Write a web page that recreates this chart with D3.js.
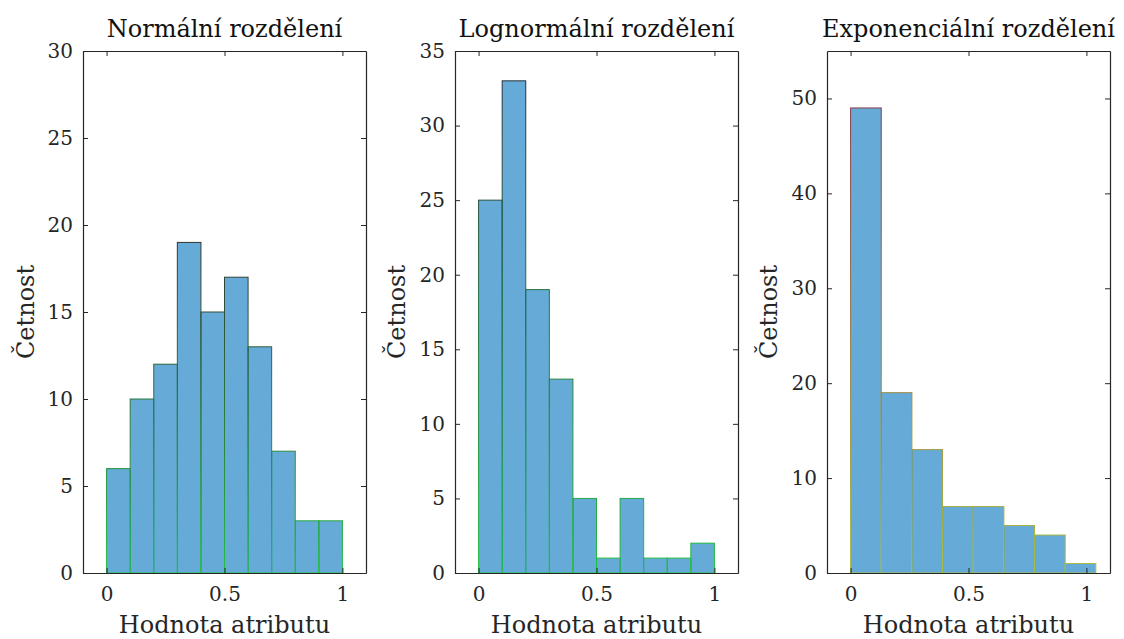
<!DOCTYPE html>
<html>
<head>
<meta charset="utf-8">
<script src="https://cdn.jsdelivr.net/npm/d3@7"></script>
<style>
  body { margin: 0; background: #fff; }
  text { font-family: "DejaVu Serif", "Liberation Serif", serif; fill: #262626; }
</style>
</head>
<body>
<div id="vis"></div>
<script>
// data
let titles = ['Normální rozdělení', 'Lognormální rozdělení', 'Exponenciální rozdělení']
let binEdgesNormal = [0, 0.1, 0.2, 0.3, 0.4, 0.5, 0.6, 0.7, 0.8, 0.9, 1.0]
let countsNormal = [6, 10, 12, 19, 15, 17, 13, 7, 3, 3]
let binEdgesLognormal = [0, 0.1, 0.2, 0.3, 0.4, 0.5, 0.6, 0.7, 0.8, 0.9, 1.0]
let countsLognormal = [25, 33, 19, 13, 5, 1, 5, 1, 1, 2]
let binEdgesExp = [0, 0.13, 0.26, 0.39, 0.52, 0.65, 0.78, 0.91, 1.04]
let countsExp = [49, 19, 13, 7, 7, 5, 4, 1]
let yMaxes = [30, 35, 55]
let yTicks = [[0, 5, 10, 15, 20, 25, 30], [0, 5, 10, 15, 20, 25, 30, 35], [0, 10, 20, 30, 40, 50]]
let xTicks = [0, 0.5, 1]
let xLabel = 'Hodnota atributu'
let yLabel = 'Četnost'

let panels = [
  {edges: binEdgesNormal, counts: countsNormal, left: 83, top: ['#333333', '#22c040']},
  {edges: binEdgesLognormal, counts: countsLognormal, left: 455, top: ['#26303c', '#22c040']},
  {edges: binEdgesExp, counts: countsExp, left: 827, top: ['#8a3a4a', '#a8c040']}
]

let W = 1124, H = 639
let plotW = 283, plotTop = 51, plotBottom = 573

let svg = d3.select('#vis').append('svg')
  .attr('width', W).attr('height', H)

let defs = svg.append('defs')

panels.forEach((p, i) => {
  let g = svg.append('g').attr('transform', `translate(${p.left},0)`)

  let x = d3.scaleLinear().domain([-0.1, 1.1]).range([0, plotW])
  let y = d3.scaleLinear().domain([0, yMaxes[i]]).range([plotBottom, plotTop])

  // edge colour changes from top to bottom, like the original
  let grad = defs.append('linearGradient')
    .attr('id', 'edge' + i)
    .attr('gradientUnits', 'userSpaceOnUse')
    .attr('x1', 0).attr('x2', 0)
    .attr('y1', y(d3.max(p.counts))).attr('y2', plotBottom)
  grad.append('stop').attr('offset', '0%').attr('stop-color', p.top[0])
  grad.append('stop').attr('offset', '100%').attr('stop-color', p.top[1])

  let bins = p.counts.map((c, k) => ({x0: p.edges[k], x1: p.edges[k + 1], c: c}))

  g.selectAll('rect.bar')
    .data(bins)
    .join('rect')
    .attr('class', 'bar')
    .attr('x', d => x(d.x0))
    .attr('y', d => y(d.c))
    .attr('width', d => x(d.x1) - x(d.x0))
    .attr('height', d => plotBottom - y(d.c))
    .attr('fill', '#0072BD')
    .attr('fill-opacity', 0.6)
    .attr('stroke', `url(#edge${i})`)
    .attr('stroke-width', 1)

  // axes box with inward ticks on all four sides
  let axisColor = '#262626'
  let bottomAx = g.append('g').attr('transform', `translate(0,${plotBottom})`)
    .call(d3.axisBottom(x).tickValues(xTicks).tickSizeInner(-5).tickSizeOuter(0).tickPadding(14).tickFormat(d3.format('')))
  let topAx = g.append('g').attr('transform', `translate(0,${plotTop})`)
    .call(d3.axisTop(x).tickValues(xTicks).tickSizeInner(-5).tickSizeOuter(0).tickFormat(''))
  let leftAx = g.append('g')
    .call(d3.axisLeft(y).tickValues(yTicks[i]).tickSizeInner(-5).tickSizeOuter(0).tickPadding(10))
  let rightAx = g.append('g').attr('transform', `translate(${plotW},0)`)
    .call(d3.axisRight(y).tickValues(yTicks[i]).tickSizeInner(-5).tickSizeOuter(0).tickFormat(''))

  ;[bottomAx, topAx, leftAx, rightAx].forEach(a => {
    a.select('.domain').attr('stroke', axisColor).attr('stroke-width', 1.2)
    a.selectAll('.tick line').attr('stroke', axisColor)
    a.selectAll('.tick text').attr('font-size', 20).attr('font-family', '"DejaVu Serif", serif').attr('fill', axisColor)
  })

  g.append('text')
    .attr('x', plotW / 2).attr('y', 37)
    .attr('text-anchor', 'middle')
    .attr('font-size', 24)
    .style('fill', '#111')
    .text(titles[i])

  g.append('text')
    .attr('x', plotW / 2).attr('y', 633)
    .attr('text-anchor', 'middle')
    .attr('font-size', 24)
    .text(xLabel)

  g.append('text')
    .attr('transform', `translate(${i === 0 ? -49 : -50},${(plotTop + plotBottom) / 2}) rotate(-90)`)
    .attr('text-anchor', 'middle')
    .attr('font-size', 24)
    .text(yLabel)
})
</script>
</body>
</html>
